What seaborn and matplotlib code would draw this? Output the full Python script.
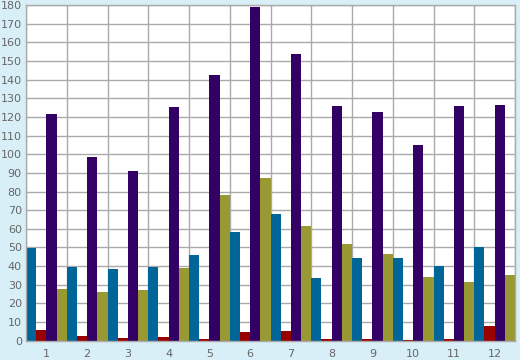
import matplotlib
matplotlib.use("Agg")
import matplotlib.pyplot as plt
import seaborn as sns
import pandas as pd
import numpy as np

categories = ["1", "2", "3", "4", "5", "6", "7", "8", "9", "10", "11", "12"]
series_names = ["A", "B", "C", "D"]
teal = [49.5, 39.5, 38.5, 39.5, 46, 58.5, 68, 33.5, 44.5, 44.5, 40, 50.5]
red = [5.5, 2.5, 1.5, 2, 1, 4.5, 5, 1, 1, 0.5, 1, 8]
purple = [121.5, 98.5, 91, 125.5, 142.5, 179, 153.5, 126, 122.5, 105, 126, 126.5]
olive = [27.5, 26, 27, 39, 78, 87.5, 61.5, 52, 46.5, 34, 31.5, 35]
yticks = list(range(0, 181, 10))

colors = ["#006699", "#990000", "#330066", "#999933"]

rows = []
for name, vals in zip(series_names, [teal, red, purple, olive]):
    for c, v in zip(categories, vals):
        rows.append({"cat": c, "series": name, "value": v})
df = pd.DataFrame(rows)

sns.set_style("white")
plt.rcParams['font.family'] = ['DejaVu Sans']

bg = "#d9eff7"
fig = plt.figure(figsize=(5.2, 3.6), dpi=100, facecolor=bg)
ax = fig.add_axes([26/520, (360-340.7)/360, (515-26)/520, (340.7-5)/360])
ax.set_facecolor("white")

sns.barplot(data=df, x="cat", y="value", hue="series", order=categories,
            hue_order=series_names, palette=colors, width=1.0, gap=0,
            saturation=1, linewidth=0, ax=ax, legend=False, errorbar=None)

ax.set_xlim(-0.5, len(categories) - 0.5)
ax.set_ylim(0, 180)
ax.set_yticks(yticks)
ax.set_yticklabels([str(t) for t in yticks])
ax.set_xticks(range(len(categories)))
ax.set_xticklabels(categories)
ax.set_xticks(np.arange(-0.5, len(categories), 1.0), minor=True)

ax.grid(False)
ax.yaxis.grid(True, color="#aaaaaa", linewidth=1.0)
ax.xaxis.grid(True, which="minor", color="#aaaaaa", linewidth=1.0)
ax.set_axisbelow(True)

ax.tick_params(axis="x", which="major", length=0, pad=6, labelsize=8, labelcolor="#666666")
ax.tick_params(axis="x", which="minor", length=4, width=1, color="#888888", direction="out")
ax.tick_params(axis="y", which="major", length=0, pad=3, labelsize=8, labelcolor="#666666")

for s in ax.spines.values():
    s.set_color("#aaaaaa")
    s.set_linewidth(1.0)
    s.set_visible(True)

ax.set_xlabel("")
ax.set_ylabel("")

fig.savefig("out.png", dpi=100, facecolor=bg)
